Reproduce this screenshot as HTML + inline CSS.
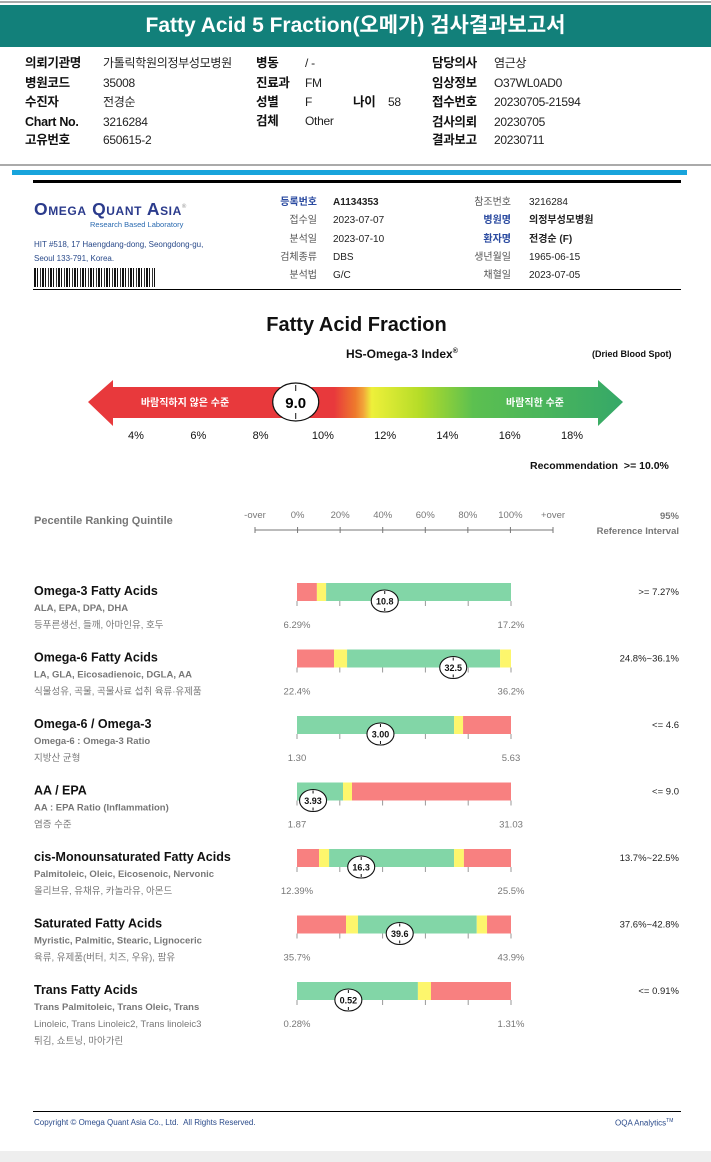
<!DOCTYPE html>
<html><head><meta charset="utf-8">
<style>
*{margin:0;padding:0;box-sizing:border-box}
body{width:711px;height:1162px;background:#fff;position:relative;overflow:hidden;font-family:"Liberation Sans","Noto Sans CJK KR",sans-serif;color:#111}
.a{position:absolute;white-space:nowrap;line-height:1}
.hl{font-size:12.5px;font-weight:bold;letter-spacing:-0.3px}
.hv{font-size:12px;color:#222;letter-spacing:-0.3px}
.ml{font-size:10px;color:#555;text-align:right;width:80px}
.mv{font-size:10px;color:#222}
</style></head><body>
<div class="a" style="left:0;top:1px;width:711px;height:2px;background:#aaa"></div>
<div class="a" style="left:0;top:5px;width:711px;height:42px;background:#12807a;color:#fff;font-size:21px;font-weight:bold;text-align:center;line-height:42px">Fatty Acid 5 Fraction(오메가) 검사결과보고서</div>

<div>
<div class="a hl" style="left:25px;top:57px">의뢰기관명</div><div class="a hv" style="left:103px;top:57px">가톨릭학원의정부성모병원</div>
<div class="a hl" style="left:25px;top:77px">병원코드</div><div class="a hv" style="left:103px;top:77px">35008</div>
<div class="a hl" style="left:25px;top:96px">수진자</div><div class="a hv" style="left:103px;top:96px">전경순</div>
<div class="a hl" style="left:25px;top:116px">Chart No.</div><div class="a hv" style="left:103px;top:116px">3216284</div>
<div class="a hl" style="left:25px;top:134px">고유번호</div><div class="a hv" style="left:103px;top:134px">650615-2</div>
<div class="a hl" style="left:256px;top:57px">병동</div><div class="a hv" style="left:305px;top:57px">/ -</div>
<div class="a hl" style="left:256px;top:77px">진료과</div><div class="a hv" style="left:305px;top:77px">FM</div>
<div class="a hl" style="left:256px;top:96px">성별</div><div class="a hv" style="left:305px;top:96px">F</div>
<div class="a hl" style="left:353px;top:96px">나이</div><div class="a hv" style="left:388px;top:96px">58</div>
<div class="a hl" style="left:256px;top:115px">검체</div><div class="a hv" style="left:305px;top:115px">Other</div>
<div class="a hl" style="left:432px;top:57px">담당의사</div><div class="a hv" style="left:494px;top:57px">염근상</div>
<div class="a hl" style="left:432px;top:77px">임상정보</div><div class="a hv" style="left:494px;top:77px">O37WL0AD0</div>
<div class="a hl" style="left:432px;top:96px">접수번호</div><div class="a hv" style="left:494px;top:96px">20230705-21594</div>
<div class="a hl" style="left:432px;top:116px">검사의뢰</div><div class="a hv" style="left:494px;top:116px">20230705</div>
<div class="a hl" style="left:432px;top:134px">결과보고</div><div class="a hv" style="left:494px;top:134px">20230711</div>
</div>
<div class="a" style="left:0;top:164px;width:711px;height:2px;background:#aaa"></div>
<div class="a" style="left:12px;top:170px;width:675px;height:5px;background:#18a4dc"></div>
<div class="a" style="left:33px;top:180px;width:648px;height:3px;background:#000"></div>

<div class="a" style="left:34px;top:201px;font-size:17.5px;font-weight:bold;color:#2b3b8c;font-variant:small-caps;letter-spacing:0.6px">Omega Quant Asia<sup style="font-size:6px;color:#aaa">®</sup></div>
<div class="a" style="left:90px;top:221px;font-size:7.5px;color:#2a6ab0">Research Based Laboratory</div>
<div class="a" style="left:34px;top:238px;font-size:8px;color:#2a4a8a;line-height:14px">HIT #518, 17 Haengdang-dong, Seongdong-gu,<br>Seoul 133-791, Korea.</div>
<div class="a" style="left:34px;top:268px;width:121px;height:19px;background:repeating-linear-gradient(90deg,#111 0 2px,#fff 2px 3px,#111 3px 4px,#fff 4px 6px,#333 6px 7px,#fff 7px 8px)"></div>

<div>
<div class="a ml" style="left:237px;top:198px;color:#2a4aa0;font-weight:bold">등록번호</div><div class="a mv" style="left:333px;top:198px;font-weight:bold">A1134353</div>
<div class="a ml" style="left:237px;top:216px">접수일</div><div class="a mv" style="left:333px;top:216px">2023-07-07</div>
<div class="a ml" style="left:237px;top:235px">분석일</div><div class="a mv" style="left:333px;top:235px">2023-07-10</div>
<div class="a ml" style="left:237px;top:253px">검체종류</div><div class="a mv" style="left:333px;top:253px">DBS</div>
<div class="a ml" style="left:237px;top:271px">분석법</div><div class="a mv" style="left:333px;top:271px">G/C</div>
<div class="a ml" style="left:431px;top:198px">참조번호</div><div class="a mv" style="left:529px;top:198px">3216284</div>
<div class="a ml" style="left:431px;top:216px;color:#2a4aa0;font-weight:bold">병원명</div><div class="a mv" style="left:529px;top:216px;font-weight:bold">의정부성모병원</div>
<div class="a ml" style="left:431px;top:235px;color:#2a4aa0;font-weight:bold">환자명</div><div class="a mv" style="left:529px;top:235px;font-weight:bold">전경순 (F)</div>
<div class="a ml" style="left:431px;top:253px">생년월일</div><div class="a mv" style="left:529px;top:253px">1965-06-15</div>
<div class="a ml" style="left:431px;top:271px">채혈일</div><div class="a mv" style="left:529px;top:271px">2023-07-05</div>
</div>
<div class="a" style="left:33px;top:289px;width:648px;height:1px;background:#000"></div>

<div class="a" style="left:0;top:315px;width:711px;text-align:center;font-size:20px;font-weight:bold;padding-left:2px">Fatty Acid Fraction</div>
<div class="a" style="left:346px;top:348px;font-size:12px;font-weight:bold">HS-Omega-3 Index<sup style="font-size:7px">®</sup></div>
<div class="a" style="left:592px;top:350px;font-size:9px;font-weight:bold">(Dried Blood Spot)</div>

<svg class="a" style="left:0;top:370px" width="711" height="80">
<defs><linearGradient id="g" x1="88" x2="623" gradientUnits="userSpaceOnUse">
<stop offset="0" stop-color="#e8393c"/><stop offset="0.46" stop-color="#e8393c"/><stop offset="0.5" stop-color="#ee7a2c"/><stop offset="0.515" stop-color="#f2a63a"/><stop offset="0.53" stop-color="#eef03a"/><stop offset="0.62" stop-color="#b5dc28"/><stop offset="0.72" stop-color="#5cc050"/><stop offset="1" stop-color="#35a868"/></linearGradient></defs>
<polygon points="88,32 113,10 113,17 598,17 598,10 623,32 598,56 598,48 113,48 113,56" fill="url(#g)"/>
<text x="185" y="36" fill="#fff" font-size="10" font-weight="bold" text-anchor="middle" font-family="Liberation Sans,Noto Sans CJK KR,sans-serif">바람직하지 않은 수준</text>
<text x="535" y="36" fill="#fff" font-size="10" font-weight="bold" text-anchor="middle" font-family="Liberation Sans,Noto Sans CJK KR,sans-serif">바람직한 수준</text>
<g id="gaugeMarker"></g>
<g id="gaugeTicks"></g>
</svg>
<div class="a" style="left:530px;top:461px;font-size:10.5px;font-weight:bold">Recommendation &nbsp;&gt;= 10.0%</div>

<div class="a" style="left:34px;top:516px;font-size:11px;font-weight:bold;color:#777">Pecentile Ranking Quintile</div>
<div class="a" style="left:559px;top:509px;width:120px;text-align:right;font-size:9.5px;color:#777;line-height:15px;font-weight:bold">95%<br>Reference Interval</div>

<svg class="a" id="rows" style="left:0;top:0" width="711" height="1100"></svg>

<div class="a" style="left:33px;top:1111px;width:648px;height:1px;background:#000"></div>
<div class="a" style="left:34px;top:1119px;font-size:8px;color:#2a4a8a">Copyright © Omega Quant Asia Co., Ltd. &nbsp;All Rights Reserved.</div>
<div class="a" style="left:615px;top:1119px;font-size:8px;color:#2a4a8a">OQA Analytics<sup style="font-size:5px">TM</sup></div>
<div class="a" style="left:0;top:1151px;width:711px;height:11px;background:#eee"></div>

<script>
// gauge data
const gaugeTicks=[4,6,8,10,12,14,16,18];
const gaugeValue=9.0;
// percentile chart data
const scaleLabels=['-over','0%','20%','40%','60%','80%','100%','+over'];
const rowTitles=['Omega-3 Fatty Acids','Omega-6 Fatty Acids','Omega-6 / Omega-3','AA / EPA','cis-Monounsaturated Fatty Acids','Saturated Fatty Acids','Trans Fatty Acids'];
const rowSub1=['ALA, EPA, DPA, DHA','LA, GLA, Eicosadienoic, DGLA, AA','Omega-6 : Omega-3 Ratio','AA : EPA Ratio (Inflammation)','Palmitoleic, Oleic, Eicosenoic, Nervonic','Myristic, Palmitic, Stearic, Lignoceric','Trans Palmitoleic, Trans Oleic, Trans'];
const rowSub2=['등푸른생선, 들깨, 아마인유, 호두','식물성유, 곡물, 곡물사료 섭취 육류·유제품','지방산 균형','염증 수준','올리브유, 유채유, 카놀라유, 아몬드','육류, 유제품(버터, 치즈, 우유), 팜유','Linoleic, Trans Linoleic2, Trans linoleic3'];
const rowSub3=['','','','','','','튀김, 쇼트닝, 마아가린'];
const rangeMin=['6.29%','22.4%','1.30','1.87','12.39%','35.7%','0.28%'];
const rangeMax=['17.2%','36.2%','5.63','31.03','25.5%','43.9%','1.31%'];
const refIntervals=['>= 7.27%','24.8%~36.1%','<= 4.6','<= 9.0','13.7%~22.5%','37.6%~42.8%','<= 0.91%'];
const resultValues=['10.8','32.5','3.00','3.93','16.3','39.6','0.52'];
const resultPercentile=[41,73,39,7.5,30,48,24];
const zoneBounds=[[9.3,13.6,100],[17.3,23.4,94.9,100],[73.4,77.6,100],[21.5,25.7,100],[10.3,15,73.4,78,100],[22.9,28.5,84,88.8,100],[56.5,62.6,100]];
const zoneColors=[['r','y','g'],['r','y','g','y'],['g','y','r'],['g','y','r'],['r','y','g','y','r'],['r','y','g','y','r'],['g','y','r']];

const NS='http://www.w3.org/2000/svg';
const col={r:'#f88080',y:'#fdf66c',g:'#82d6a7'};
function mk(p,tag,at){const e=document.createElementNS(NS,tag);for(const k in at)e.setAttribute(k,at[k]);p.appendChild(e);return e;}
function txt(p,x,y,s,at){const e=mk(p,'text',Object.assign({x:x,y:y,'font-family':'Liberation Sans,Noto Sans CJK KR,sans-serif'},at));e.textContent=s;return e;}
const gx=v=>136+(v-4)*(572-136)/14;
const gt=document.getElementById('gaugeTicks');
gaugeTicks.forEach(v=>{const t=txt(gt,gx(v),69,v+'%',{'font-size':11,'text-anchor':'middle',fill:'#111'});

});
const gm=document.getElementById('gaugeMarker');
const gmx=gx(gaugeValue)+4;
const ge=mk(gm,'ellipse',{cx:gmx,cy:32,rx:23,ry:19,fill:'#fff',stroke:'#111','stroke-width':1.2});


mk(gm,'line',{x1:gmx,y1:15,x2:gmx,y2:21,stroke:'#111'});mk(gm,'line',{x1:gmx,y1:43,x2:gmx,y2:49,stroke:'#111'});
txt(gm,gmx,38,gaugeValue.toFixed(1),{'font-size':15,'font-weight':'bold','text-anchor':'middle'});

const svg=document.getElementById('rows');
const X0=297,X1=511;
const px=p=>X0+p*(X1-X0)/100;
const sx=i=>255+i*(553-255)/7;
scaleLabels.forEach((s,i)=>{const t=txt(svg,sx(i),518,s,{'font-size':9.5,fill:'#777','text-anchor':'middle'});


mk(svg,'line',{x1:sx(i),y1:527,x2:sx(i),y2:533,stroke:'#777'});});
mk(svg,'line',{x1:255,y1:530,x2:553,y2:530,stroke:'#777'});

rowTitles.forEach((title,i)=>{
  const y0=583+i*66.5;
  const g=mk(svg,'g',{});
  
  
  txt(g,34,y0+12,title,{'font-size':12.5,'font-weight':'bold',fill:'#111'});
  txt(g,34,y0+28,rowSub1[i],{'font-size':9.5,'font-weight':'bold',fill:'#777'});
  txt(g,34,y0+45,rowSub2[i],{'font-size':9.5,fill:'#777'});
  if(rowSub3[i])txt(g,34,y0+62,rowSub3[i],{'font-size':9.5,fill:'#777'});
  let prev=0;
  zoneBounds[i].forEach((b,j)=>{
    const r=mk(g,'rect',{x:px(prev),y:y0,width:px(b)-px(prev),height:18,fill:col[zoneColors[i][j]]});
    
    
    prev=b;});
  for(let k=0;k<=5;k++){mk(g,'line',{x1:px(k*20),y1:y0+18,x2:px(k*20),y2:y0+23,stroke:'#999'});}
  txt(g,px(0),y0+45,rangeMin[i],{'font-size':9.5,fill:'#777','text-anchor':'middle'});
  txt(g,px(100),y0+45,rangeMax[i],{'font-size':9.5,fill:'#777','text-anchor':'middle'});
  txt(g,679,y0+12,refIntervals[i],{'font-size':9.5,fill:'#222','text-anchor':'end'});
  const mx=px(resultPercentile[i]);
  const e=mk(g,'ellipse',{cx:mx,cy:y0+18,rx:13.5,ry:11,fill:'#fff',stroke:'#111','stroke-width':1.1});
  
  
  mk(g,'line',{x1:mx,y1:y0+8,x2:mx,y2:y0+11,stroke:'#111'});
  mk(g,'line',{x1:mx,y1:y0+25,x2:mx,y2:y0+28,stroke:'#111'});
  txt(g,mx,y0+21.5,resultValues[i],{'font-size':9,'font-weight':'bold','text-anchor':'middle',fill:'#111'});
});
</script>
</body></html>
